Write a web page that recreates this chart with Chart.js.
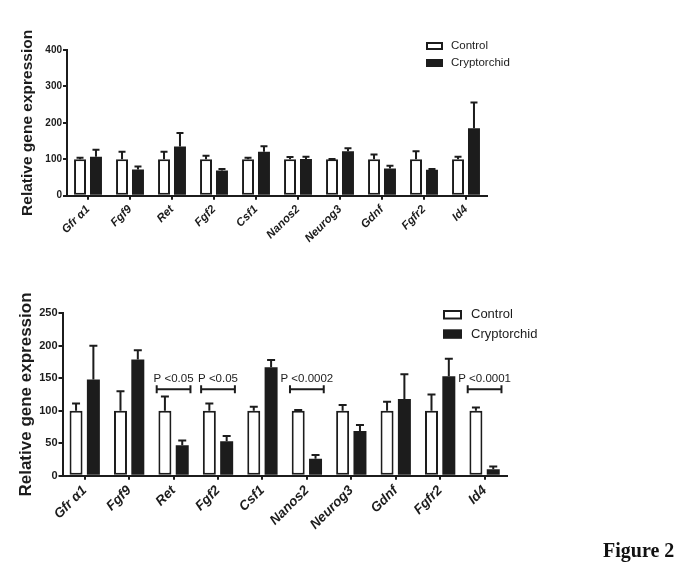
<!DOCTYPE html>
<html>
<head>
<meta charset="utf-8">
<script src="https://cdn.jsdelivr.net/npm/chart.js@4.4.1/dist/chart.umd.min.js"></script>
<style>
  html, body { margin: 0; padding: 0; background: #fff; }
  #page { position: relative; width: 683px; height: 568px; overflow: hidden; }
  canvas { position: absolute; left: 0; }
  #chart-top { top: 0; }
  #chart-bottom { top: 285px; }
  #figure-label {
    position: absolute; left: 603px; top: 540px;
    font: bold 20px 'Liberation Serif', 'Times New Roman', serif;
    line-height: 20px; color: #111;
  }
</style>
</head>
<body>
<div id="page">
  <canvas id="chart-top" width="683" height="285"></canvas>
  <canvas id="chart-bottom" width="683" height="283"></canvas>
  <div id="figure-label">Figure 2</div>
</div>
<script>
const genes = ['Gfr α1', 'Fgf9', 'Ret', 'Fgf2', 'Csf1', 'Nanos2', 'Neurog3', 'Gdnf', 'Fgfr2', 'Id4'];
const seriesNames = ['Control', 'Cryptorchid'];

// upper panel
const topControl = [100, 100, 100, 100, 100, 100, 100, 100, 100, 100];
const topControlSem = [4, 21, 21, 10, 4, 6, 1, 13, 22, 7];
const topCrypto = [107, 72, 135, 69, 121, 101, 122, 75, 71, 185];
const topCryptoSem = [19, 8, 37, 4, 15, 6, 8, 7, 2, 71];
const topTicks = [0, 100, 200, 300, 400];

// lower panel
const bottomControl = [100, 100, 100, 100, 100, 100, 100, 100, 100, 100];
const bottomControlSem = [11, 30, 22, 11, 6, 1, 9, 14, 25, 5];
const bottomCrypto = [148, 179, 47, 53, 167, 26, 69, 118, 153, 10];
const bottomCryptoSem = [52, 14, 7, 8, 11, 6, 9, 38, 27, 4];
const bottomTicks = [0, 50, 100, 150, 200, 250];

// significance brackets (lower panel)
const pGenes = ['Ret', 'Fgf2', 'Nanos2', 'Id4'];
const pLabels = ['P <0.05', 'P <0.05', 'P <0.0002', 'P <0.0001'];
const bracketLevel = 133;

const INK = '#1c1c1c';
const SANS = "'Liberation Sans', Arial, Helvetica, sans-serif";

const errorBars = {
  id: 'errorBars',
  afterDatasetsDraw(chart, args, opts) {
    const ctx = chart.ctx;
    const y = chart.scales.y;
    ctx.save();
    ctx.strokeStyle = INK;
    ctx.lineWidth = 2;
    chart.data.datasets.forEach((ds, i) => {
      const meta = chart.getDatasetMeta(i);
      meta.data.forEach((bar, j) => {
        const top = y.getPixelForValue(ds.data[j] + ds.sem[j]);
        ctx.beginPath();
        ctx.moveTo(bar.x, bar.y);
        ctx.lineTo(bar.x, top);
        ctx.moveTo(bar.x - opts.cap, top);
        ctx.lineTo(bar.x + opts.cap, top);
        ctx.stroke();
      });
    });
    ctx.restore();
  },
};

const boxLegend = {
  id: 'boxLegend',
  afterDraw(chart, args, opts) {
    const ctx = chart.ctx;
    ctx.save();
    ctx.font = `${opts.fontSize}px ${SANS}`;
    ctx.textBaseline = 'middle';
    chart.data.datasets.forEach((ds, i) => {
      const y = opts.y + i * opts.step;
      ctx.fillStyle = INK;
      ctx.fillRect(opts.x, y, opts.w, opts.h);
      if (ds.backgroundColor === '#ffffff') {
        ctx.fillStyle = '#ffffff';
        ctx.fillRect(opts.x + 2, y + 2, opts.w - 4, opts.h - 4);
      }
      ctx.fillStyle = INK;
      ctx.fillText(ds.label, opts.x + opts.w + opts.gap, y + opts.h / 2);
    });
    ctx.restore();
  },
};

const brackets = {
  id: 'brackets',
  afterDraw(chart, args, opts) {
    if (!opts.items) return;
    const ctx = chart.ctx;
    const x = chart.scales.x;
    const yy = chart.scales.y.getPixelForValue(opts.level);
    const half = (x.width / chart.data.labels.length) * opts.half;
    ctx.save();
    ctx.strokeStyle = INK;
    ctx.fillStyle = INK;
    ctx.lineWidth = 2;
    ctx.font = `${opts.fontSize}px ${SANS}`;
    ctx.textAlign = 'center';
    ctx.textBaseline = 'alphabetic';
    opts.items.forEach((item) => {
      const cx = x.getPixelForValue(chart.data.labels.indexOf(item.gene));
      ctx.beginPath();
      ctx.moveTo(cx - half, yy);
      ctx.lineTo(cx + half, yy);
      ctx.moveTo(cx - half, yy - 4);
      ctx.lineTo(cx - half, yy + 4);
      ctx.moveTo(cx + half, yy - 4);
      ctx.lineTo(cx + half, yy + 4);
      ctx.stroke();
      ctx.fillText(item.label, cx, yy - 7);
    });
    ctx.restore();
  },
};

function makeDatasets(control, controlSem, crypto, cryptoSem) {
  return [
    {
      label: seriesNames[0], data: control, sem: controlSem,
      backgroundColor: '#ffffff', borderColor: INK, borderWidth: 2, borderSkipped: false,
    },
    {
      label: seriesNames[1], data: crypto, sem: cryptoSem,
      backgroundColor: INK, borderColor: INK, borderWidth: 0,
    },
  ];
}

function createPanel(canvasId, cfg) {
  return new Chart(document.getElementById(canvasId), {
    type: 'bar',
    data: { labels: genes, datasets: cfg.datasets },
    options: {
      responsive: false,
      animation: false,
      devicePixelRatio: 1,
      categoryPercentage: cfg.category,
      barPercentage: 0.75,
      layout: { padding: cfg.padding },
      plugins: {
        legend: { display: false },
        tooltip: { enabled: false },
        errorBars: { cap: cfg.cap },
        boxLegend: cfg.legend,
        brackets: cfg.brackets || {},
      },
      scales: {
        x: {
          grid: { offset: false, drawOnChartArea: false, drawTicks: true, tickLength: 4, color: INK, lineWidth: 2 },
          border: { color: INK, width: 2 },
          ticks: {
            autoSkip: false, maxRotation: 45, minRotation: 45, padding: cfg.xPad, color: INK,
            font: { family: SANS, size: cfg.xFont, weight: 'bold', style: 'italic' },
          },
          afterFit: (s) => { s.height = cfg.xHeight; },
        },
        y: {
          min: 0,
          max: cfg.ticks[cfg.ticks.length - 1],
          afterBuildTicks: (s) => { s.ticks = cfg.ticks.map((v) => ({ value: v })); },
          grid: { drawOnChartArea: false, drawTicks: true, tickLength: 4, color: INK, lineWidth: 2 },
          border: { color: INK, width: 2 },
          ticks: { padding: 1, color: INK, font: { family: SANS, size: cfg.yFont, weight: 'bold' } },
          title: {
            display: true, text: 'Relative gene expression', color: INK,
            padding: { top: cfg.titlePad, bottom: 0 },
            font: { family: SANS, size: cfg.titleFont, weight: 'bold', lineHeight: 1 },
          },
          afterFit: (s) => { s.width = cfg.yWidth; },
        },
      },
    },
    plugins: [errorBars, boxLegend, brackets],
  });
}

createPanel('chart-top', {
  datasets: makeDatasets(topControl, topControlSem, topCrypto, topCryptoSem),
  ticks: topTicks,
  category: 0.76,
  padding: { top: 50, right: 196, left: 0, bottom: 0 },
  yWidth: 67,
  xHeight: 89.3,
  xFont: 11.5,
  xPad: 3,
  yFont: 10,
  titleFont: 15.5,
  titlePad: 20,
  cap: 3.5,
  legend: { x: 426, y: 42, step: 17, w: 17, h: 8, gap: 8, fontSize: 11.5 },
});

createPanel('chart-bottom', {
  datasets: makeDatasets(bottomControl, bottomControlSem, bottomCrypto, bottomCryptoSem),
  ticks: bottomTicks,
  category: 0.78,
  padding: { top: 28.3, right: 176.2, left: 0, bottom: 0 },
  yWidth: 62.5,
  xHeight: 92.3,
  xFont: 13.5,
  xPad: 3,
  yFont: 11,
  titleFont: 17,
  titlePad: 18,
  cap: 4,
  legend: { x: 443, y: 25, step: 19.3, w: 19, h: 9.5, gap: 9, fontSize: 13 },
  brackets: {
    items: pGenes.map((gene, i) => ({ gene, label: pLabels[i] })),
    level: bracketLevel, half: 0.38, fontSize: 11.5,
  },
});
</script>
</body>
</html>
